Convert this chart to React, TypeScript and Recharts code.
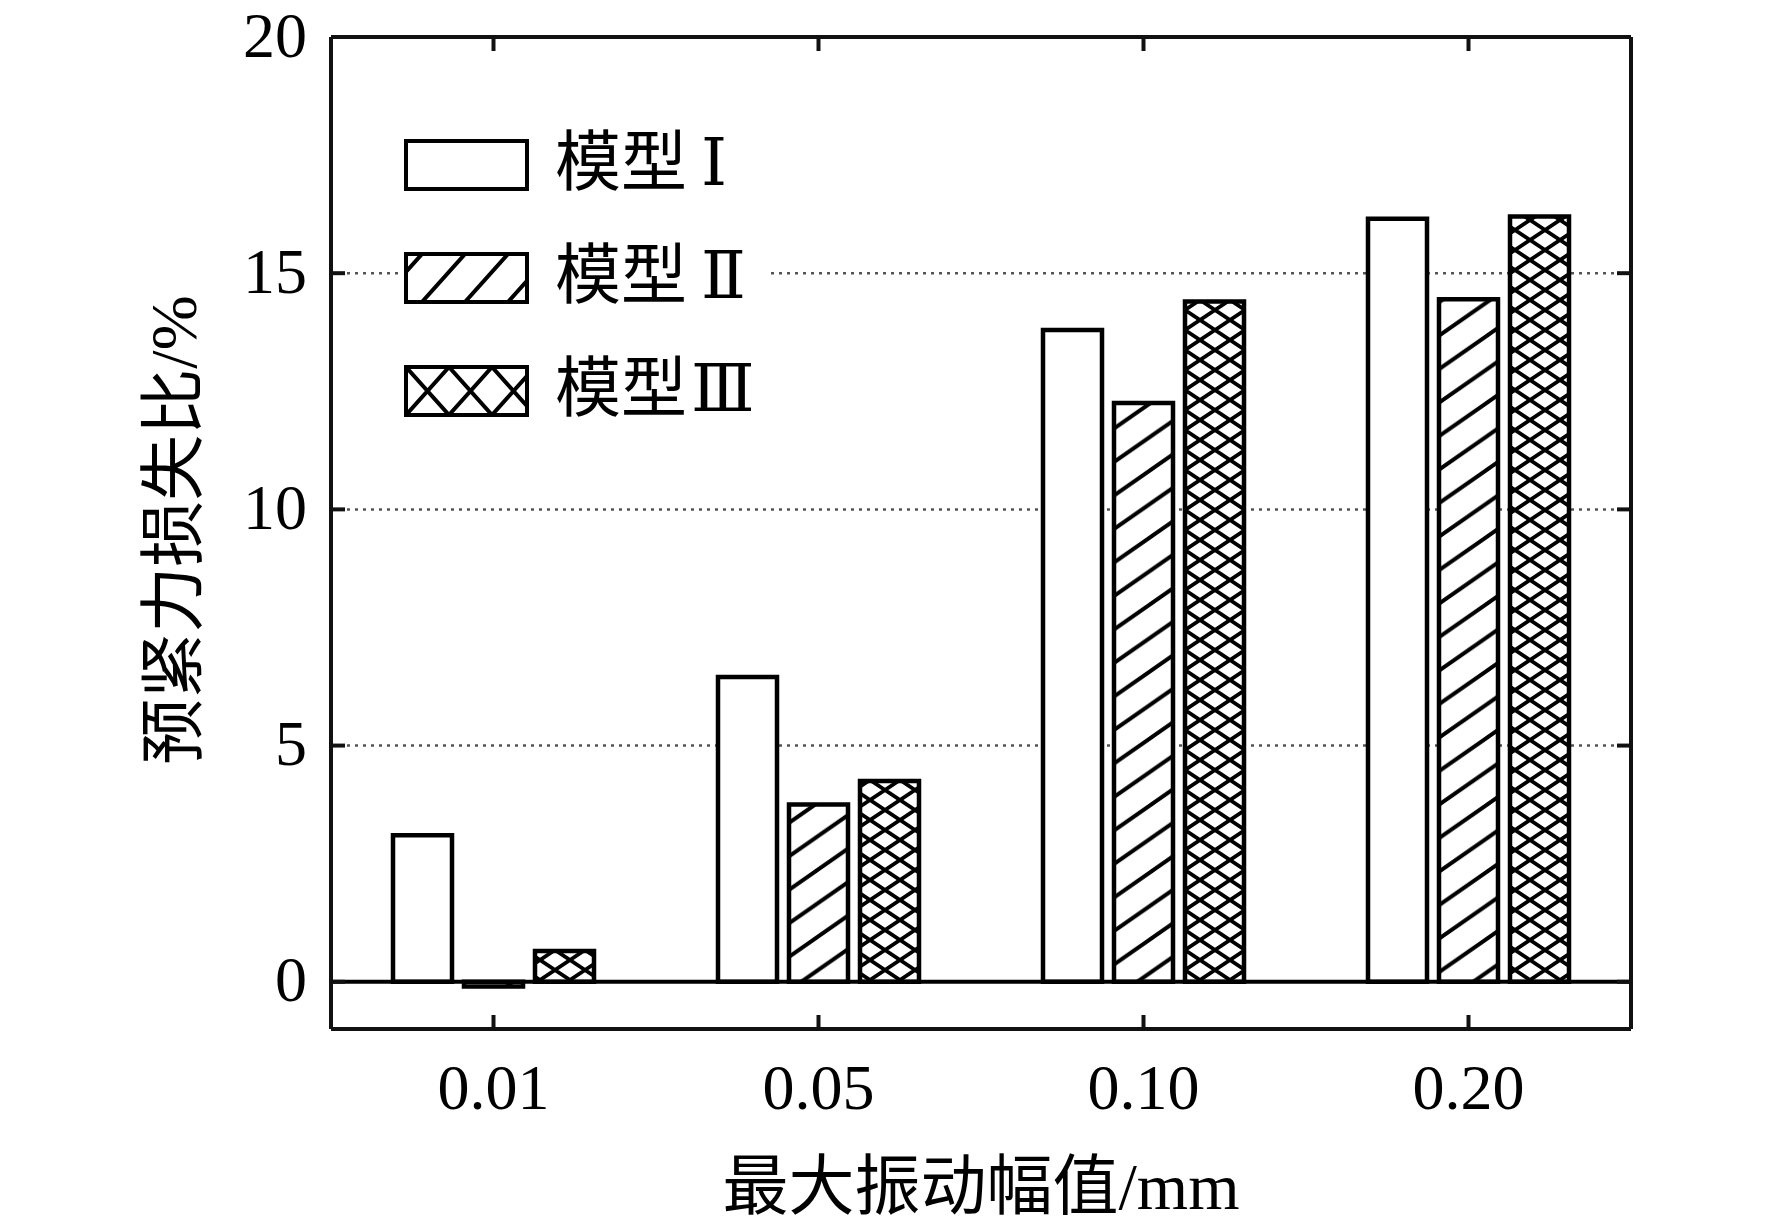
import { BarChart, Bar, XAxis, YAxis, CartesianGrid, ReferenceLine, Legend } from "recharts";

// 最大振动幅值 (mm)
const amplitudes = ["0.01", "0.05", "0.10", "0.20"];
// 预紧力损失比 (%) per model
const model1 = [3.1, 6.45, 13.8, 16.15];
const model2 = [-0.1, 3.75, 12.25, 14.45];
const model3 = [0.65, 4.25, 14.4, 16.2];
const seriesNames = ["模型Ⅰ", "模型Ⅱ", "模型Ⅲ"];
const yTicks = [0, 5, 10, 15, 20];
const xTitle = "最大振动幅值/mm";
const yTitle = "预紧力损失比/%";

const data = amplitudes.map((amp, i) => ({ amp, m1: model1[i], m2: model2[i], m3: model3[i] }));

const FONT = "'Liberation Serif', 'Noto Sans CJK SC', serif";
const LEGEND_FONT = "'Liberation Serif', 'DejaVu Serif', 'Noto Sans CJK SC', serif";
const INK = "#111";
const axisLine = { stroke: INK, strokeWidth: 4 };
const tickLine = { stroke: INK, strokeWidth: 4 };
const tickFont = { fontSize: 64, fill: "#000", fontFamily: FONT };
const noLabel = () => <g />;

function hatchPath(w: number, h: number) {
  return `M0,${h} L${w},0 M${-w},${h} L${w},${-h} M0,${2 * h} L${2 * w},0`;
}
function crossPath(w: number, h: number) {
  return (
    `M0,0 L${w},${h} M${w},0 L0,${h} ` +
    `M${-w},${h} L${w},${-h} M0,${2 * h} L${2 * w},0 ` +
    `M0,${-h} L${2 * w},${h} M${-w},0 L${w},${2 * h}`
  );
}

function Pattern({ id, w, h, d, x = 0, y = 0, sw }: { id: string; w: number; h: number; d: string; x?: number; y?: number; sw: number }) {
  return (
    <pattern id={id} patternUnits="userSpaceOnUse" x={x} y={y} width={w} height={h}>
      <rect width={w} height={h} fill="#fff" />
      <path d={d} stroke="#000" strokeWidth={sw} fill="none" />
    </pattern>
  );
}

function LegendBox() {
  return (
    <div style={{ position: "relative", width: 366, height: 316, background: "#fff" }}>
      {seriesNames.map((name, i) => {
        const top = 23 + i * 113;
        const pid = `lg-${i}`;
        return (
          <div key={name}>
            <svg width={125} height={52} style={{ position: "absolute", left: 1, top: top - 2 }}>
              <defs>
                {i === 1 && <Pattern id={pid} w={43} h={48} x={18} y={2} d={hatchPath(43, 48)} sw={4} />}
                {i === 2 && <Pattern id={pid} w={43} h={48} x={2} y={2} d={crossPath(43, 48)} sw={4} />}
              </defs>
              <rect x={2} y={2} width={121} height={48} fill={i === 0 ? "#fff" : `url(#${pid})`} stroke="#000" strokeWidth={4} />
            </svg>
            <div
              style={{
                position: "absolute", left: 152, top: top + 22, transform: "translateY(-50%)",
                fontSize: 66, lineHeight: 1, whiteSpace: "nowrap", fontFamily: LEGEND_FONT, color: "#000",
              }}
            >
              {name.slice(0, 2)}
              <span style={{ marginLeft: i === 2 ? 4 : 14 }}>{name.slice(2)}</span>
            </div>
          </div>
        );
      })}
    </div>
  );
}

function YTitle({ viewBox }: any) {
  const cx = viewBox.x + 173;
  const cy = viewBox.y + viewBox.height / 2 - 3;
  return (
    <text x={cx} y={cy} transform={`rotate(-90 ${cx} ${cy})`} textAnchor="middle" dominantBaseline="central"
      fontSize={66} fontFamily={FONT} fill="#000">{yTitle}</text>
  );
}

function XTitle({ viewBox }: any) {
  const cx = viewBox.x + viewBox.width / 2;
  const cy = viewBox.y + 157;
  return (
    <text x={cx} y={cy} textAnchor="middle" dominantBaseline="central" fontSize={66} fontFamily={FONT} fill="#000">
      {xTitle}
    </text>
  );
}

export default function App() {
  return (
    <div style={{ position: "absolute", left: 0, top: 0, width: 1772, height: 1231, background: "#fff" }}>
      <BarChart width={1772} height={1231} data={data} margin={{ top: 36, right: 140, left: 0, bottom: 0 }}
        barSize={59} barGap={12}>
        <defs>
          <Pattern id="bar-hatch" w={48} h={33.5} d={hatchPath(48, 33.5)} sw={4} />
          <Pattern id="bar-cross" w={30} h={20} d={crossPath(30, 20)} sw={3.8} />
        </defs>
        <CartesianGrid vertical={false} stroke="#555" strokeDasharray="3 5" strokeWidth={2.5} />
        <XAxis dataKey="amp" type="category" height={202} interval={0} axisLine={axisLine} tickLine={tickLine}
          tickSize={-14} tickMargin={49} tick={tickFont} label={<XTitle />} />
        <XAxis xAxisId="top" dataKey="amp" type="category" orientation="top" height={1} interval={0}
          axisLine={axisLine} tickLine={tickLine} tickSize={-14} tick={noLabel} />
        <YAxis type="number" domain={[-1, 20]} ticks={yTicks} interval={0} width={331} axisLine={axisLine}
          tickLine={tickLine} tickSize={-14} tickMargin={38} tick={{ ...tickFont, dy: -3 }} allowDataOverflow
          label={<YTitle />} />
        <YAxis yAxisId="right" orientation="right" type="number" domain={[-1, 20]} ticks={yTicks} interval={0}
          width={1} axisLine={axisLine} tickLine={tickLine} tickSize={-14} tick={noLabel} allowDataOverflow />
        <Bar dataKey="m1" name={seriesNames[0]} fill="#fff" stroke="#000" strokeWidth={4.5} isAnimationActive={false} />
        <Bar dataKey="m2" name={seriesNames[1]} fill="url(#bar-hatch)" stroke="#000" strokeWidth={4.5} isAnimationActive={false} />
        <Bar dataKey="m3" name={seriesNames[2]} fill="url(#bar-cross)" stroke="#000" strokeWidth={4.5} isAnimationActive={false} />
        <ReferenceLine y={0} stroke="#000" strokeWidth={4} />
        <Legend layout="vertical" align="center" verticalAlign="middle" content={() => <LegendBox />}
          wrapperStyle={{ left: 403, top: 118, width: 366, height: 316 }} />
      </BarChart>
    </div>
  );
}
